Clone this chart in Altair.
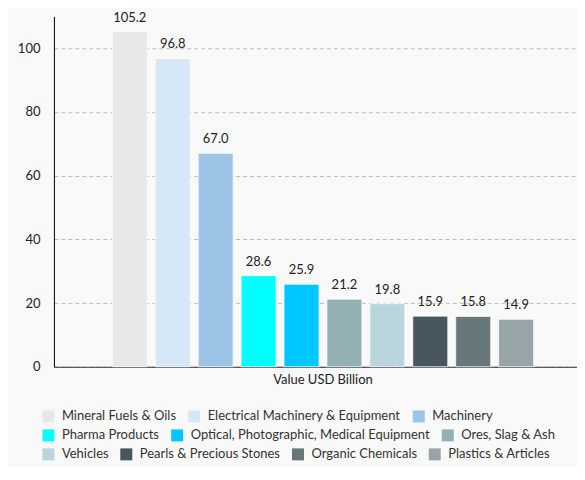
import altair as alt
import pandas as pd

categories = [
    "Mineral Fuels & Oils", "Electrical Machinery & Equipment", "Machinery",
    "Pharma Products", "Optical, Photographic, Medical Equipment", "Ores, Slag & Ash",
    "Vehicles", "Pearls & Precious Stones", "Organic Chemicals", "Plastics & Articles",
]
values = [105.2, 96.8, 67.0, 28.6, 25.9, 21.2, 19.8, 15.9, 15.8, 14.9]
colors = ["#e8e8e8", "#d6e7f7", "#9bc4e6", "#00ffff", "#00c8ff",
          "#93b1b5", "#b8d6dc", "#48575d", "#67777a", "#98a5a8"]
legend_rows = [0, 0, 0, 1, 1, 1, 2, 2, 2, 2]
metric = "Value USD Billion"

df = pd.DataFrame({
    "metric": [metric] * len(categories),
    "name": categories,
    "value": values,
    "row": legend_rows,
})

FONT = "Lato"
x_enc = alt.X("metric:N", title=None,
              scale=alt.Scale(paddingInner=0, paddingOuter=0.1093, align=0.58),
              axis=alt.Axis(ticks=False, labelPadding=7, labelFont=FONT, labelFontSize=13,
                            labelColor="#222", domainColor="#333", domainWidth=1,
                            labelAngle=0, grid=False))
xo_enc = alt.XOffset("name:N", sort=categories,
                     scale=alt.Scale(domain=categories, paddingInner=0.186, paddingOuter=0.093))
y_enc = alt.Y("value:Q", title=None,
              scale=alt.Scale(domain=[0, 110], nice=False),
              axis=alt.Axis(values=[0, 20, 40, 60, 80, 100], ticks=False, labelPadding=14,
                            labelFont=FONT, labelFontSize=13, labelColor="#222",
                            domainColor="#000", domainWidth=1,
                            grid=True, gridDash=[4, 3], gridColor="#bbbbbb", gridWidth=1))

legend_ys = [394, 413, 432]
layers = []
for r in range(3):
    idx = [i for i in range(len(categories)) if legend_rows[i] == r]
    dom = [categories[i] for i in idx]
    rng = [colors[i] for i in idx]
    layer = alt.Chart(df).transform_filter(alt.datum.row == r).mark_bar(
        stroke="#ffffff", strokeWidth=1, strokeOpacity=0.7
    ).encode(
        x=x_enc, xOffset=xo_enc, y=y_enc,
        color=alt.Color("name:N", sort=dom,
                        scale=alt.Scale(domain=dom, range=rng),
                        legend=alt.Legend(title=None, orient="none", direction="horizontal",
                                          columns=len(dom), legendX=-12, legendY=legend_ys[r],
                                          symbolType="square", symbolSize=144,
                                          symbolStrokeWidth=0, symbolOpacity=1,
                                          labelFont=FONT, labelFontSize=13, labelColor="#333",
                                          labelOffset=7, columnPadding=11, labelLimit=400,
                                          padding=0)),
    )
    layers.append(layer)

text = alt.Chart(df).mark_text(baseline="bottom", dy=-7, font=FONT, fontSize=13,
                               color="#222").encode(
    x=x_enc, xOffset=xo_enc, y=y_enc,
    text=alt.Text("value:Q", format=".1f"),
)

chart = alt.layer(*layers, text).resolve_scale(color="independent").properties(
    width=524, height=351,
    background="#f9f9f9",
    padding={"left": 9, "top": 3, "right": 0, "bottom": 5},
).configure_view(stroke=None)

chart.save("out.html", embed_options={"renderer": "svg", "actions": False})
